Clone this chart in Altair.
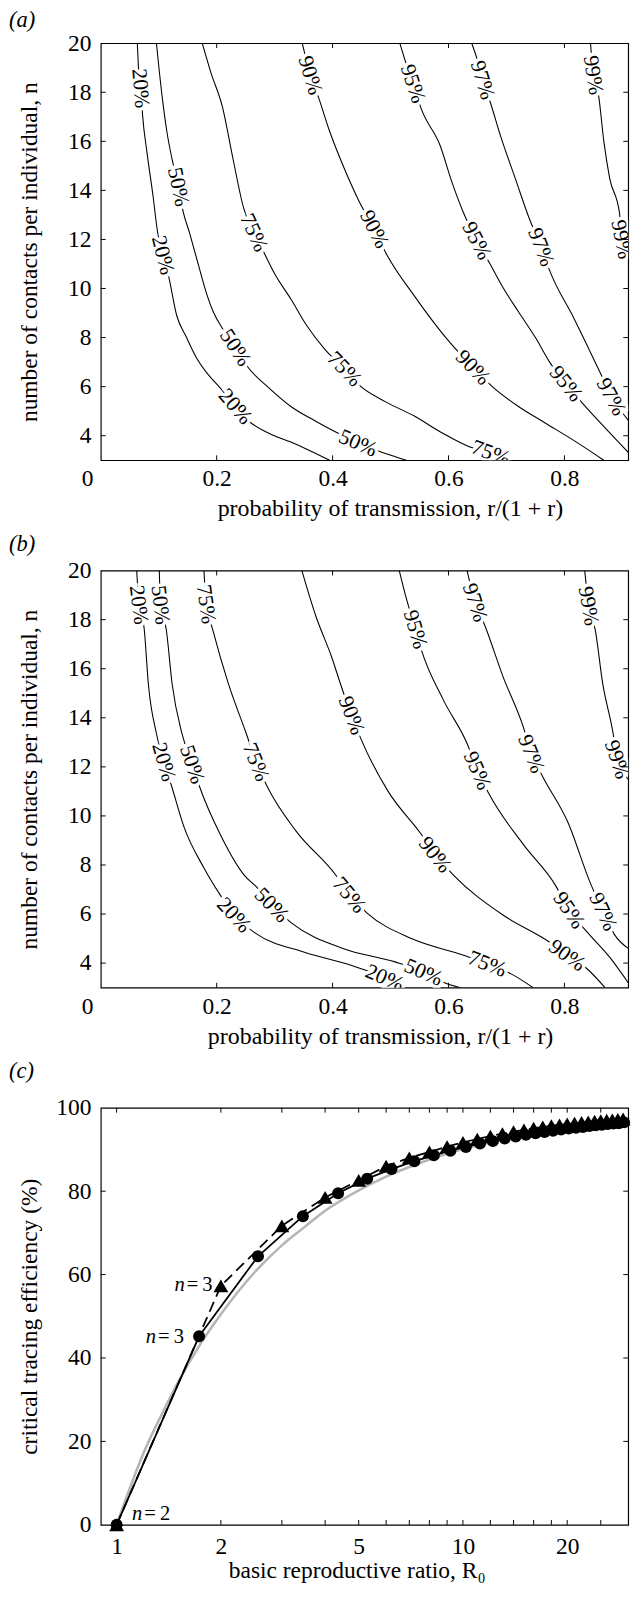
import math
import altair as alt
import pandas as pd

FONT = "Liberation Serif"
W, H = 540, 427

# ---------------- panel (a): contour lines (x = r/(1+r), n = contacts) -------------
A20_X = [0.063, 0.065, 0.069, 0.072, 0.080, 0.090, 0.098, 0.1075, 0.117, 0.131, 0.148, 0.165, 0.185, 0.204, 0.2325, 0.255, 0.29, 0.328, 0.36, 0.395]
A20_N = [20, 19.0, 18.16, 17.1, 15.5, 13.8, 12.3, 11.36, 10.5, 8.9, 8.0, 7.18, 6.5, 6.0, 5.19, 4.6, 4.1, 3.74, 3.4, 3.0]
A20_LAB = [2, 7, 14]
A50_X = [0.096, 0.106, 0.114, 0.123, 0.134, 0.1415, 0.154, 0.168, 0.182, 0.195, 0.21, 0.2325, 0.252, 0.29, 0.328, 0.37, 0.407, 0.444, 0.491, 0.527]
A50_N = [20, 17.8, 16.4, 15.27, 14.14, 13.2, 12.2, 11.0, 9.83, 9.0, 8.37, 7.6, 6.85, 5.95, 5.19, 4.6, 4.13, 3.7, 3.27, 3.0]
A50_LAB = [4, 11, 17]
A75_X = [0.175, 0.19, 0.21, 0.228, 0.2465, 0.2645, 0.283, 0.30, 0.328, 0.355, 0.387, 0.4207, 0.446, 0.49, 0.541, 0.59, 0.637, 0.673, 0.70]
A75_N = [20, 18.8, 17.39, 15.3, 13.28, 12.28, 11.4, 10.6, 9.57, 8.5, 7.51, 6.72, 6.06, 5.4, 4.8, 4.1, 3.54, 3.3, 3.0]
A75_LAB = [5, 11, 17]
A90_X = [0.3476, 0.3617, 0.3757, 0.395, 0.42, 0.446, 0.4723, 0.491, 0.541, 0.603, 0.6425, 0.676, 0.72, 0.766, 0.82, 0.868]
A90_N = [20, 18.69, 17.79, 16.4, 14.9, 13.54, 12.42, 11.49, 9.7, 7.78, 6.78, 5.99, 5.2, 4.53, 3.75, 3.0]
A90_LAB = [1, 6, 10]
A95_X = [0.516, 0.525, 0.539, 0.553, 0.586, 0.605, 0.626, 0.649, 0.671, 0.695, 0.721, 0.75, 0.775, 0.803, 0.831, 0.867, 0.911]
A95_N = [20, 19.3, 18.35, 17.32, 15.8, 14.4, 13.08, 11.95, 11.03, 10.0, 9.04, 8.0, 6.98, 6.12, 5.33, 4.4, 3.3]
A95_LAB = [2, 7, 13]
A97_X = [0.64, 0.65, 0.659, 0.673, 0.69, 0.715, 0.741, 0.76, 0.774, 0.8167, 0.864, 0.881, 0.895, 0.911]
A97_N = [20, 19.3, 18.5, 17.52, 16.2, 14.5, 12.75, 11.69, 10.76, 8.77, 6.45, 5.59, 5.1, 4.6]
A97_LAB = [2, 7, 11]
A99_X = [0.845, 0.85, 0.859, 0.868, 0.878, 0.895, 0.899, 0.911]
A99_N = [20, 18.7, 17.85, 16.0, 14.5, 13.08, 12.0, 11.2]
A99_LAB = [1, 6]

# ---------------- panel (b) ----------------
B20_X = [0.062, 0.066, 0.075, 0.082, 0.096, 0.109, 0.122, 0.144, 0.178, 0.206, 0.23, 0.268, 0.35, 0.433, 0.49, 0.52]
B20_N = [20, 18.6, 17.6, 15.4, 13.36, 12.2, 11.23, 9.52, 7.88, 6.78, 5.96, 5.2, 4.45, 3.9, 3.4, 3.0]
B20_LAB = [1, 5, 10, 14]
B50_X = [0.101, 0.103, 0.113, 0.123, 0.14, 0.158, 0.171, 0.206, 0.247, 0.271, 0.295, 0.33, 0.419, 0.509, 0.557, 0.591, 0.619]
B50_N = [20, 18.6, 17.6, 15.4, 13.36, 12.1, 11.16, 9.25, 7.6, 7.05, 6.37, 5.62, 4.59, 4.04, 3.63, 3.22, 3.0]
B50_LAB = [1, 5, 10, 14]
B75_X = [0.178, 0.182, 0.193, 0.22, 0.251, 0.268, 0.288, 0.337, 0.405, 0.429, 0.46, 0.536, 0.626, 0.667, 0.708, 0.746]
B75_N = [20, 18.63, 17.6, 15.4, 13.36, 12.2, 11.16, 9.38, 7.6, 6.78, 6.03, 5.0, 4.32, 3.97, 3.56, 3.0]
B75_LAB = [1, 5, 9, 13]
B90_X = [0.347, 0.371, 0.398, 0.419, 0.433, 0.45, 0.495, 0.553, 0.577, 0.608, 0.694, 0.774, 0.805, 0.839, 0.87]
B90_N = [20, 18.15, 16.5, 15.0, 14.1, 13.08, 11.03, 9.25, 8.42, 7.6, 5.96, 4.86, 4.32, 3.77, 3.0]
B90_LAB = [4, 8, 12]
B95_X = [0.515, 0.526, 0.543, 0.553, 0.591, 0.632, 0.65, 0.67, 0.729, 0.784, 0.808, 0.839, 0.88, 0.91]
B95_N = [20, 18.97, 17.6, 16.78, 14.73, 12.95, 11.85, 10.89, 8.84, 7.19, 6.16, 5.27, 4.18, 3.2]
B95_LAB = [2, 6, 10]
B97_X = [0.632, 0.646, 0.663, 0.694, 0.729, 0.743, 0.763, 0.805, 0.846, 0.867, 0.887, 0.91]
B97_N = [20, 18.7, 17.74, 15.68, 13.63, 12.53, 11.58, 9.79, 7.19, 6.1, 5.14, 4.6]
B97_LAB = [1, 5, 9]
B99_X = [0.835, 0.842, 0.853, 0.866, 0.884, 0.891, 0.91]
B99_N = [20, 18.56, 17.6, 15.4, 13.36, 12.3, 11.5]
B99_LAB = [1, 5]

AB_XTICKS = [0, 0.2, 0.4, 0.6, 0.8]
AB_YTICKS = [4, 6, 8, 10, 12, 14, 16, 18, 20]

# ---------------- panel (c) ----------------
GRAY_R0 = [1, 1.1, 1.2, 1.35, 1.5, 1.75, 2, 2.5, 3, 3.5, 4, 5, 6, 7, 8, 10, 12, 15, 20, 25, 30]
GRAY_PCT = [0, 9.5, 17.5, 26.5, 34, 43.5, 50.5, 60.5, 67, 71.5, 75.3, 80.2, 83.5, 85.8, 87.6, 90.1, 91.7, 93.4, 95.0, 96.0, 96.7]
CIRC_R0 = [1.0, 1.73, 2.56, 3.45, 4.36, 5.29, 6.22, 7.24, 8.24, 9.2, 10.2, 11.2, 12.2, 13.2, 14.2, 15.2,
           16.2, 17.2, 18.2, 19.2, 20.2, 21.2, 22.2, 23.2, 24.2, 25.2, 26.2, 27.2, 28.2, 29.2]
CIRC_PCT = [0, 45.2, 64.4, 74.0, 79.5, 83.0, 85.3, 87.2, 88.6, 89.7, 90.6, 91.4, 92.0, 92.6, 93.1, 93.5,
            93.9, 94.2, 94.5, 94.8, 95.0, 95.2, 95.4, 95.6, 95.8, 95.9, 96.1, 96.2, 96.3, 96.5]
TRI_R0 = [1, 2, 3, 4, 5, 6, 7, 8, 9, 10, 11, 12, 13, 14, 15, 16, 17, 18, 19, 20, 21, 22, 23, 24, 25, 26, 27, 28, 29]
TRI_PCT = [0, 57.3, 71.7, 78.5, 82.6, 86.0, 88.0, 89.4, 90.7, 91.7, 92.5, 93.2, 93.8, 94.3, 94.7, 95.1,
           95.4, 95.7, 95.9, 96.1, 96.3, 96.5, 96.6, 96.8, 96.9, 97.0, 97.1, 97.2, 97.3]
NLAB_R0 = [1.593, 1.317, 1.202]
NLAB_PCT = [56.0, 43.5, 1.25]
NLAB_TXT = ["\u2009=\u20093", "\u2009=\u20093", "\u2009=\u20092"]
C_XLABELS = [1, 2, 5, 10, 20]
C_XTICKS = [1, 2, 3, 4, 5, 6, 7, 8, 9, 10, 12, 14, 16, 18, 20, 25]
C_YTICKS = [0, 20, 40, 60, 80, 100]

TICK = 5


def axis_common(**kw):
    base = dict(labelFont=FONT, labelFontSize=24, labelColor="black", titleFont=FONT,
                titleFontSize=24, titleFontWeight="normal", titleColor="black",
                ticks=False, tickSize=0, domain=False, grid=False)
    base.update(kw)
    return alt.Axis(**base)


def frame_ticks(xsc, ysc, xvals, yvals, xax, yax):
    dx = pd.DataFrame({"v": xvals})
    dy = pd.DataFrame({"v": yvals})
    st = dict(color="black", strokeWidth=1)
    xb = alt.Chart(dx).mark_rule(**st).encode(x=alt.X("v:Q", scale=xsc, axis=xax), y=alt.value(H), y2=alt.value(H - TICK))
    xt = alt.Chart(dx).mark_rule(**st).encode(x=alt.X("v:Q", scale=xsc, axis=xax), y=alt.value(0), y2=alt.value(TICK))
    yl = alt.Chart(dy).mark_rule(**st).encode(y=alt.Y("v:Q", scale=ysc, axis=yax), x=alt.value(0), x2=alt.value(TICK))
    yr = alt.Chart(dy).mark_rule(**st).encode(y=alt.Y("v:Q", scale=ysc, axis=yax), x=alt.value(W), x2=alt.value(W - TICK))
    return [xb, xt, yl, yr]


def panel_letter(letter, ypx):
    return alt.Chart(pd.DataFrame({"t": [letter]})).mark_text(
        font=FONT, fontSize=23, fontStyle="italic", align="left", baseline="middle", color="black"
    ).encode(text="t:N", x=alt.value(-94), y=alt.value(ypx))


def contour_panel(contours, letter, letter_y, title_x):
    XMIN, XMAX, NMIN, NMAX = 0.0, 0.91, 3.0, 20.0
    lines, labs = [], []
    for lev, xs, ns, idx in contours:
        for i, (x, n) in enumerate(zip(xs, ns)):
            lines.append(dict(lev=lev, i=i, x=x, n=n))
        for j in idx:
            dxp = (xs[j + 1] - xs[j - 1]) * W / (XMAX - XMIN)
            dyp = (ns[j - 1] - ns[j + 1]) * H / (NMAX - NMIN)
            ang = math.degrees(math.atan2(dyp, dxp)) % 360
            labs.append(dict(lev=lev, x=xs[j], n=ns[j], ang=ang))
    dl = pd.DataFrame(lines)
    dlab = pd.DataFrame(labs)
    xsc = alt.Scale(domain=[XMIN, XMAX], nice=False, zero=False)
    ysc = alt.Scale(domain=[NMIN, NMAX], nice=False, zero=False)
    xax = axis_common(title="probability of transmission, r/(1 + r)", values=AB_XTICKS, format="~g",
                      labelPadding=26, labelBaseline="alphabetic", titleFontSize=24.5,
                      labelAlign={"condition": {"test": "datum.value === 0", "value": "right"}, "value": "center"},
                      labelOffset={"condition": {"test": "datum.value === 0", "value": -8}, "value": 0},
                      titleX=title_x, titleY=57, titleAlign="center", titleBaseline="alphabetic")
    yax = axis_common(title="number of contacts per individual, n", values=AB_YTICKS, format="d",
                      labelPadding=10, labelBaseline="middle",
                      titleX=-66, titleY=H / 2, titleAngle=270, titleAlign="center", titleBaseline="alphabetic")
    X = alt.X("x:Q", scale=xsc, axis=xax)
    Y = alt.Y("n:Q", scale=ysc, axis=yax)
    line = alt.Chart(dl).mark_line(color="black", strokeWidth=1.1, clip=True, interpolate="monotone").encode(
        x=X, y=Y, detail="lev:N", order="i:Q")
    txt = dict(font=FONT, fontSize=22, align="center", baseline="middle", clip=True)
    halo = alt.Chart(dlab).mark_text(fill="white", stroke="white", strokeWidth=7, **txt).encode(
        x=X, y=Y, text="lev:N", angle=alt.Angle("ang:Q", scale=None))
    label = alt.Chart(dlab).mark_text(color="black", **txt).encode(
        x=X, y=Y, text="lev:N", angle=alt.Angle("ang:Q", scale=None))
    layers = [line, halo, label] + frame_ticks(xsc, ysc, AB_XTICKS[1:], AB_YTICKS[:-1], xax, yax)
    layers.append(panel_letter(letter, letter_y))
    return alt.layer(*layers).properties(width=W, height=H)


panel_a = contour_panel([
    ("20%", A20_X, A20_N, A20_LAB), ("50%", A50_X, A50_N, A50_LAB), ("75%", A75_X, A75_N, A75_LAB),
    ("90%", A90_X, A90_N, A90_LAB), ("95%", A95_X, A95_N, A95_LAB), ("97%", A97_X, A97_N, A97_LAB),
    ("99%", A99_X, A99_N, A99_LAB)], "(a)", -24, 296)

panel_b = contour_panel([
    ("20%", B20_X, B20_N, B20_LAB), ("50%", B50_X, B50_N, B50_LAB), ("75%", B75_X, B75_N, B75_LAB),
    ("90%", B90_X, B90_N, B90_LAB), ("95%", B95_X, B95_N, B95_LAB), ("97%", B97_X, B97_N, B97_LAB),
    ("99%", B99_X, B99_N, B99_LAB)], "(b)", -27, 286)

# ---------------- panel (c) chart ----------------
xsc_c = alt.Scale(type="log", domain=[0.9, 30], nice=False)
ysc_c = alt.Scale(domain=[0, 100], nice=False, zero=False)
xax_c = axis_common(title="basic reproductive ratio, R₀", values=C_XLABELS, format="d",
                    labelPadding=29, labelBaseline="alphabetic",
                    titleX=262, titleY=54, titleAlign="center", titleBaseline="alphabetic")
yax_c = axis_common(title="critical tracing efficiency (%)", values=C_YTICKS, format="d",
                    labelPadding=10, labelBaseline="middle",
                    titleX=-66, titleY=H / 2, titleAngle=270, titleAlign="center", titleBaseline="alphabetic")
XC = alt.X("R0:Q", scale=xsc_c, axis=xax_c)
YC = alt.Y("pct:Q", scale=ysc_c, axis=yax_c)

d_gray = pd.DataFrame({"R0": GRAY_R0, "pct": GRAY_PCT})
d_circ = pd.DataFrame({"R0": CIRC_R0, "pct": CIRC_PCT})
d_tri = pd.DataFrame({"R0": TRI_R0, "pct": TRI_PCT})
d_nlab = pd.DataFrame({"R0": NLAB_R0, "pct": NLAB_PCT, "t": NLAB_TXT})

gray = alt.Chart(d_gray).mark_line(color="#b5b5b5", strokeWidth=2.6, interpolate="monotone").encode(x=XC, y=YC)
solid = alt.Chart(d_circ).mark_line(color="black", strokeWidth=1.8).encode(x=XC, y=YC)
circ = alt.Chart(d_circ).mark_point(shape="circle", filled=True, color="black", size=150, opacity=1).encode(x=XC, y=YC)
dashed = alt.Chart(d_tri).mark_line(color="black", strokeWidth=1.8, strokeDash=[11, 6]).encode(x=XC, y=YC)
tri = alt.Chart(d_tri).mark_point(shape="triangle-up", filled=True, color="black", size=230, opacity=1).encode(x=XC, y=YC)
ntxt = alt.Chart(d_nlab).mark_text(font=FONT, fontSize=21, align="left", baseline="alphabetic", color="black").encode(
    x=XC, y=YC, text="t:N")
nital = alt.Chart(d_nlab).mark_text(font=FONT, fontSize=21, fontStyle="italic", align="right", baseline="alphabetic",
                                   color="black", text="n", dx=-2).encode(x=XC, y=YC)

panel_c = alt.layer(gray, solid, circ, dashed, tri, ntxt, nital,
                    *frame_ticks(xsc_c, ysc_c, C_XTICKS, C_YTICKS[1:-1], xax_c, yax_c),
                    panel_letter("(c)", -37)).properties(width=W, height=H)

chart = alt.vconcat(panel_a, panel_b, panel_c, spacing=11).properties(
    padding={"left": 0, "top": -19, "right": 2, "bottom": 0}
).configure_view(stroke="black", strokeWidth=1.2)

chart.save("out.html", embed_options={"renderer": "svg", "actions": False})
